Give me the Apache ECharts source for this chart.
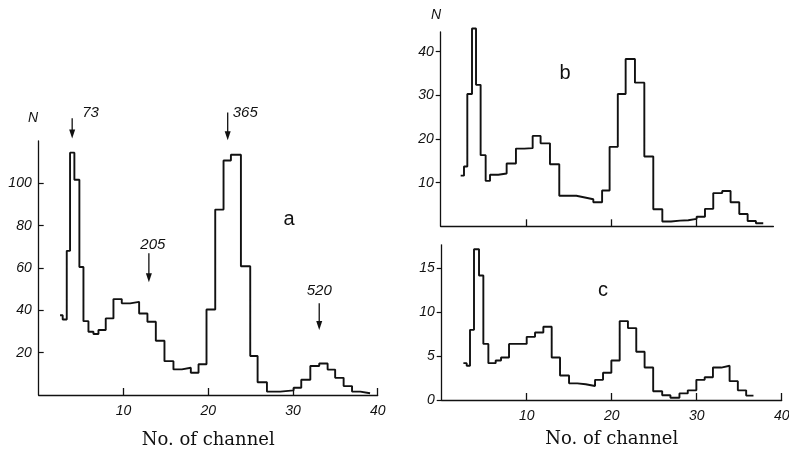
<!DOCTYPE html>
<html>
<head>
<meta charset="utf-8">
<script src="https://cdn.jsdelivr.net/npm/echarts@6/dist/echarts.min.js"></script>
<style>
  html, body { margin: 0; padding: 0; background: #fff; }
  #main { width: 789px; height: 450px; }
</style>
</head>
<body>
<div id="main"></div>
<script>
// 谱 a: 每道的左边界(最后一个为右边界)与计数
const edgesA = [2.52, 2.83, 3.31, 3.70, 4.21, 4.80, 5.28, 5.87, 6.46, 7.05, 7.91, 8.82, 9.80, 10.79, 11.85, 12.83, 13.82, 14.84, 15.90, 16.89, 17.95, 18.86, 19.80, 20.83, 21.81, 22.68, 23.86, 24.96, 25.83, 26.93, 28.5, 30.08, 30.98, 32.05, 33.10, 34.09, 34.98, 35.98, 36.97, 37.95, 39.1]
const countsA = [37.7, 35.7, 68.1, 114.5, 101.7, 60.5, 34.9, 29.9, 28.8, 30.7, 36.2, 45.3, 43.3, 44.0, 38.5, 34.6, 25.6, 16.0, 12.1, 12.9, 10.5, 14.5, 40.4, 87.6, 110.8, 113.5, 60.8, 18.4, 6.0, 1.6, 2.2, 3.4, 7.2, 13.7, 14.9, 12.0, 8.1, 4.2, 1.6, 0.8]

// 谱 b
const edgesB = [2.34, 2.73, 3.12, 3.67, 4.14, 4.68, 5.27, 5.78, 6.75, 7.73, 8.82, 9.80, 10.78, 11.71, 12.81, 13.90, 15.9, 16.9, 17.89, 18.92, 19.80, 20.76, 21.68, 22.77, 23.87, 24.92, 25.98, 27.0, 28.05, 29.02, 30.0, 30.98, 31.95, 33.0, 33.98, 35.0, 35.98, 36.95, 37.81]
const countsB = [11.6, 13.7, 30.3, 45.3, 32.4, 16.3, 10.4, 11.8, 12.1, 14.4, 17.8, 17.9, 20.7, 19.0, 14.2, 7.0, 6.6, 6.2, 5.5, 8.2, 18.2, 30.3, 38.3, 32.9, 16.0, 3.9, 1.1, 1.3, 1.4, 1.7, 2.2, 4.0, 7.6, 8.1, 5.5, 2.8, 1.2, 0.7]

// 谱 c
const edgesC = [2.55, 2.94, 3.33, 3.80, 4.39, 4.90, 5.49, 6.35, 6.98, 7.92, 8.96, 10.0, 10.98, 11.96, 12.94, 13.92, 14.98, 15.96, 16.94, 18.04, 18.98, 19.96, 20.94, 21.91, 22.89, 23.87, 24.88, 25.94, 26.91, 27.97, 28.95, 29.96, 30.94, 31.91, 32.89, 33.87, 34.84, 35.82, 36.68]
const countsC = [4.2, 3.9, 8.0, 17.2, 14.2, 6.4, 4.2, 4.5, 4.85, 6.4, 6.4, 7.2, 7.7, 8.35, 4.85, 2.8, 1.9, 1.8, 1.6, 2.3, 3.1, 4.5, 9.0, 8.2, 5.5, 3.7, 1.0, 0.55, 0.25, 0.75, 1.1, 2.3, 2.6, 3.7, 3.9, 2.15, 1.1, 0.5]

// 刻度
const xTicks = [10, 20, 30, 40]
const xTicksB = [10, 20, 30]
const yTicksA = [20, 40, 60, 80, 100]
const yTicksB = [10, 20, 30, 40]
const yTicksC = [0, 5, 10, 15]

// 谱 a 上的能量标注 (keV) 及箭头位置 (道号, 箭头上端, 箭头尖端)
const annTexts = ['73', '365', '205', '520']
const annChannel = [3.95, 22.3, 13.0, 33.1]
const annTop = [130.7, 133.5, 67, 43.4]
const annTip = [121.2, 120.3, 53.3, 30.7]

const ink = '#111'
const numFont = { color: ink, fontStyle: 'italic', fontFamily: 'Liberation Sans', fontSize: 14 }
const titleFont = { color: ink, fontFamily: 'DejaVu Serif', fontSize: 18 }

// 把道边界与计数转成阶梯线的点
function stepData(edges, counts) {
  const pts = counts.map((c, i) => [edges[i], c])
  pts.push([edges[edges.length - 1], counts[counts.length - 1]])
  return pts
}

function xAxisOf(gridIndex, max, ticks, withLabels) {
  return {
    gridIndex, type: 'value', min: 0, max,
    axisLine: { show: true, onZero: false, lineStyle: { color: ink, width: 1.3 } },
    axisTick: { show: true, inside: true, length: 7, customValues: ticks, lineStyle: { color: ink, width: 1.3 } },
    axisLabel: withLabels ? { show: true, customValues: ticks, margin: 9, ...numFont } : { show: false },
    splitLine: { show: false },
    name: withLabels ? 'No. of channel' : '',
    nameLocation: 'middle',
    nameGap: withLabels === 'a' ? 36 : 30,
    nameTextStyle: titleFont
  }
}

function yAxisOf(gridIndex, max, ticks, inside) {
  return {
    gridIndex, type: 'value', min: 0, max,
    axisLine: { show: true, onZero: false, lineStyle: { color: ink, width: 1.3 } },
    axisTick: { show: true, inside, length: 5, customValues: ticks, lineStyle: { color: ink, width: 1.2 } },
    axisLabel: { show: true, customValues: ticks, margin: 7, ...numFont },
    splitLine: { show: false }
  }
}

function seriesOf(idx, edges, counts) {
  return {
    type: 'line', xAxisIndex: idx, yAxisIndex: idx,
    step: 'end', showSymbol: false, clip: false,
    lineStyle: { color: ink, width: 1.9 },
    data: stepData(edges, counts)
  }
}

const myChart = echarts.init(document.getElementById('main'), null, { renderer: 'canvas' })
const option = {
  backgroundColor: '#fff',
  animation: false,
  grid: [
    { left: 38.7, top: 141, width: 339, height: 254, outerBoundsMode: 'none' },
    { left: 440.7, top: 32, width: 332.7, height: 194.3, outerBoundsMode: 'none' },
    { left: 441.7, top: 244.8, width: 340, height: 155.2, outerBoundsMode: 'none' }
  ],
  xAxis: [
    xAxisOf(0, 40, xTicks, 'a'),
    xAxisOf(1, 39, xTicksB, false),
    xAxisOf(2, 40, xTicks, 'c')
  ],
  yAxis: [
    yAxisOf(0, 120, yTicksA, true),
    yAxisOf(1, 44.5, yTicksB, false),
    yAxisOf(2, 17.7, yTicksC, false)
  ],
  series: [
    seriesOf(0, edgesA, countsA),
    seriesOf(1, edgesB, countsB),
    seriesOf(2, edgesC, countsC)
  ]
}
myChart.setOption(option)

// 标注: 箭头与文字, 位置按谱 a 的坐标换算
const graphics = []
const annOffset = [[10, -6, 'left'], [5, 0, 'left'], [4, -8, 'center'], [0, -12, 'center']]
annTexts.forEach((t, i) => {
  const top = myChart.convertToPixel({ gridIndex: 0 }, [annChannel[i], annTop[i]])
  const tip = myChart.convertToPixel({ gridIndex: 0 }, [annChannel[i], annTip[i]])
  graphics.push({
    type: 'line', silent: true,
    shape: { x1: top[0], y1: top[1], x2: tip[0], y2: tip[1] - 7 },
    style: { stroke: ink, lineWidth: 1.3 }
  })
  graphics.push({
    type: 'polygon', silent: true,
    shape: { points: [[tip[0] - 3, tip[1] - 9], [tip[0] + 3, tip[1] - 9], [tip[0], tip[1]]] },
    style: { fill: ink }
  })
  const o = annOffset[i]
  graphics.push({
    type: 'text', silent: true,
    style: {
      text: t, x: top[0] + o[0], y: top[1] + o[1],
      align: o[2], verticalAlign: 'middle',
      font: 'italic 15px "Liberation Sans"', fill: ink
    }
  })
})
// 纵轴名 N 与分图字母
const marks = [['N', 33, 118, 'italic 14px "Liberation Sans"'], ['N', 436, 15, 'italic 14px "Liberation Sans"'],
  ['a', 289, 219, '20px "Liberation Sans"'], ['b', 565, 73, '20px "Liberation Sans"'], ['c', 603, 290, '20px "Liberation Sans"']]
marks.forEach(m => {
  graphics.push({
    type: 'text', silent: true,
    style: { text: m[0], x: m[1], y: m[2], align: 'center', verticalAlign: 'middle', font: m[3], fill: ink }
  })
})
myChart.setOption({ graphic: graphics })

window.addEventListener('resize', () => {
  myChart.resize()
})
</script>
</body>
</html>
